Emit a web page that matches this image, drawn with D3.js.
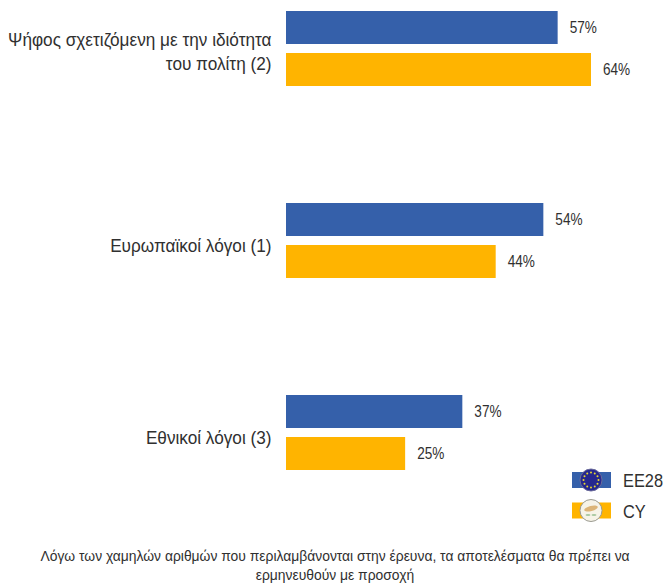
<!DOCTYPE html>
<html><head><meta charset="utf-8">
<script src="https://cdn.jsdelivr.net/npm/d3@7"></script>
<style>html,body{margin:0;padding:0;background:#fff}svg{display:block}text{font-family:"Liberation Sans",Arial,sans-serif}</style>
</head><body><svg id="c" width="664" height="583"></svg>
<script>
const categories = ["Ψήφος σχετιζόμενη με την ιδιότητα|του πολίτη (2)", "Ευρωπαϊκοί λόγοι (1)", "Εθνικοί λόγοι (3)"];
const seriesNames = ["EE28", "CY"];
const ee28 = [57, 54, 37];
const cy = [64, 44, 25];
const colors = ["#3560AA", "#FFB400"];
const note = ["Λόγω των χαμηλών αριθμών που περιλαμβάνονται στην έρευνα, τα αποτελέσματα θα πρέπει να", "ερμηνευθούν με προσοχή"];
const svg = d3.select("#c");
const ink = "#303030";
const x = d3.scaleLinear().domain([0, 64]).range([286, 591]);
const y = d3.scaleBand().domain(categories).range([-47.5, 528.5]);
const sub = d3.scaleBand().domain(seriesNames).range([0, 75]).paddingInner(9 / 42);
const tx = (sel, px, py, sx) => sel.attr("transform", `translate(${px},${py}) scale(${sx},1)`);
[ee28, cy].forEach((vals, s) => {
  const g = svg.append("g");
  const top = i => y(categories[i]) + (y.bandwidth() - 75) / 2 + sub(seriesNames[s]);
  g.selectAll("rect").data(vals).join("rect")
    .attr("x", x(0)).attr("width", d => x(d) - x(0))
    .attr("y", (d, i) => top(i)).attr("height", sub.bandwidth()).attr("fill", colors[s]);
  g.selectAll("text").data(vals).join("text")
    .each(function (d, i) { tx(d3.select(this), x(d) + 12, top(i) + sub.bandwidth() / 2 + 5.5, 0.85); })
    .attr("font-size", 16).attr("fill", ink).text(d => d + "%");
});
categories.forEach(c => {
  const lines = c.split("|");
  const c0 = y(c) + y.bandwidth() / 2;
  lines.forEach((l, i) => {
    const by = lines.length > 1 ? c0 + 9 + (i - 0.5) * 24 : c0 + 11.5;
    tx(svg.append("text").attr("text-anchor", "end"), 271.5, by, 0.905)
      .attr("font-size", 19).attr("fill", ink).text(l);
  });
});
const starAngles = d3.range(12);
seriesNames.forEach((n, i) => {
  const ly = i ? 510.5 : 480;
  svg.append("rect").attr("x", 572).attr("y", ly - 8).attr("width", 39).attr("height", 16).attr("fill", colors[i]);
  svg.append("circle").attr("cx", 591).attr("cy", ly).attr("r", 11).attr("fill", i ? "#f6f3e8" : "#26288f").attr("stroke", i ? "#9a9a90" : "#6a6a9a").attr("stroke-width", 1);
  if (!i) {
    svg.selectAll(".star").data(starAngles).join("circle").attr("class", "star")
      .attr("cx", d => 591 + 7.5 * Math.cos(d * Math.PI / 6)).attr("cy", d => ly + 7.5 * Math.sin(d * Math.PI / 6))
      .attr("r", 1).attr("fill", "#e8d830");
  } else {
    svg.append("ellipse").attr("cx", 591).attr("cy", ly - 2).attr("rx", 7).attr("ry", 2.6).attr("fill", "#dcb478").attr("transform", `rotate(-15 591 ${ly - 2})`);
    svg.append("ellipse").attr("cx", 588).attr("cy", ly + 4.5).attr("rx", 2.5).attr("ry", 1.1).attr("fill", "#a8c8a0");
    svg.append("ellipse").attr("cx", 594).attr("cy", ly + 4.5).attr("rx", 2.5).attr("ry", 1.1).attr("fill", "#a8c8a0");
  }
  tx(svg.append("text"), 623, i ? 518 : 487, 0.91).attr("font-size", 18).attr("fill", ink).text(n);
});
note.forEach((l, i) => tx(svg.append("text").attr("text-anchor", "middle"), 335, 561 + i * 19, 0.926)
  .attr("font-size", 15).attr("fill", ink).text(l));
</script></body></html>
